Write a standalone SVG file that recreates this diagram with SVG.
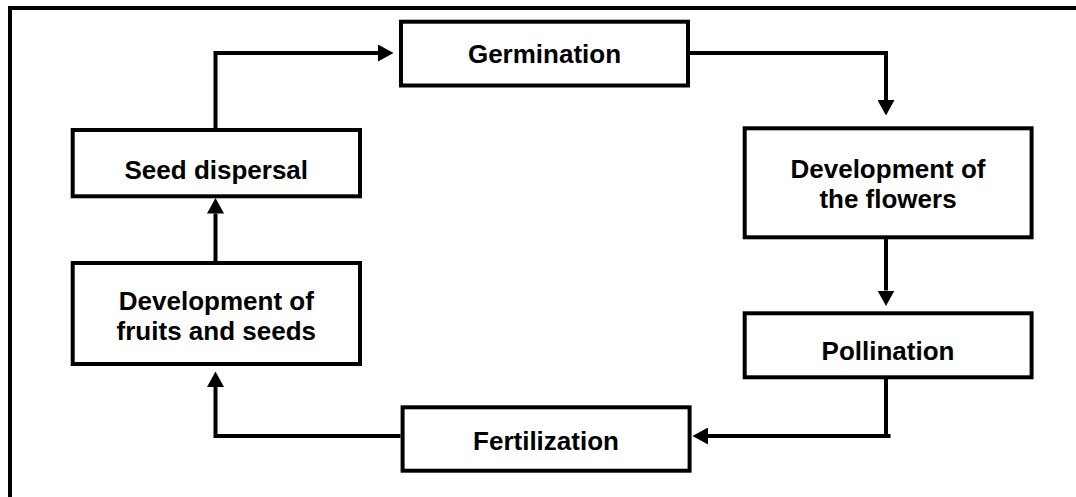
<svg xmlns="http://www.w3.org/2000/svg" width="1076" height="497" viewBox="0 0 1076 497">
<style>
.box{fill:#fff;stroke:#000;stroke-width:4}
.lbl{font-family:"Liberation Sans",Arial,sans-serif;font-weight:bold;font-size:26px;fill:#000;text-anchor:middle}
.con{fill:none;stroke:#000;stroke-width:4;marker-end:url(#ah)}
</style>
<defs>
<marker id="ah" markerUnits="userSpaceOnUse" markerWidth="16" markerHeight="17" refX="0" refY="8.5" orient="auto" viewBox="0 0 16 17">
<path d="M0,0 L15.5,8.5 L0,17 Z" fill="#000"/>
</marker>
</defs>
<rect x="10" y="8" width="1100" height="600" fill="#fff" stroke="#000" stroke-width="4"/>
<g id="connectors">
<path class="con" d="M215.5,128 V53 H378"/>
<path class="con" d="M690,53 H886 V100"/>
<path class="con" d="M886,239 V290.5"/>
<path class="con" d="M886,379 V438 M890.5,436 H708"/>
<path class="con" d="M400.5,436 H215.5 M215.5,438 V387"/>
<path class="con" d="M215.5,261 V213.5"/>
</g>
<g id="germination">
<rect class="box" x="401" y="21.7" width="287" height="63.8"/>
<text class="lbl" x="544.5" y="62.5">Germination</text>
</g>
<g id="flowers">
<rect class="box" x="744.7" y="128.3" width="286.9" height="109"/>
<text class="lbl" x="888" y="177.5">Development of</text>
<text class="lbl" x="888" y="208">the flowers</text>
</g>
<g id="pollination">
<rect class="box" x="744.7" y="313.3" width="286.9" height="64"/>
<text class="lbl" x="888" y="360">Pollination</text>
</g>
<g id="fertilization">
<rect class="box" x="402.6" y="407.3" width="287" height="63.4"/>
<text class="lbl" x="546" y="450">Fertilization</text>
</g>
<g id="fruits">
<rect class="box" x="72.7" y="263" width="287.3" height="101"/>
<text class="lbl" x="216.3" y="309.5">Development of</text>
<text class="lbl" x="216.3" y="339.5">fruits and seeds</text>
</g>
<g id="seed-dispersal">
<rect class="box" x="72.7" y="130" width="287.3" height="66.3"/>
<text class="lbl" x="216.3" y="178.5">Seed dispersal</text>
</g>
</svg>
